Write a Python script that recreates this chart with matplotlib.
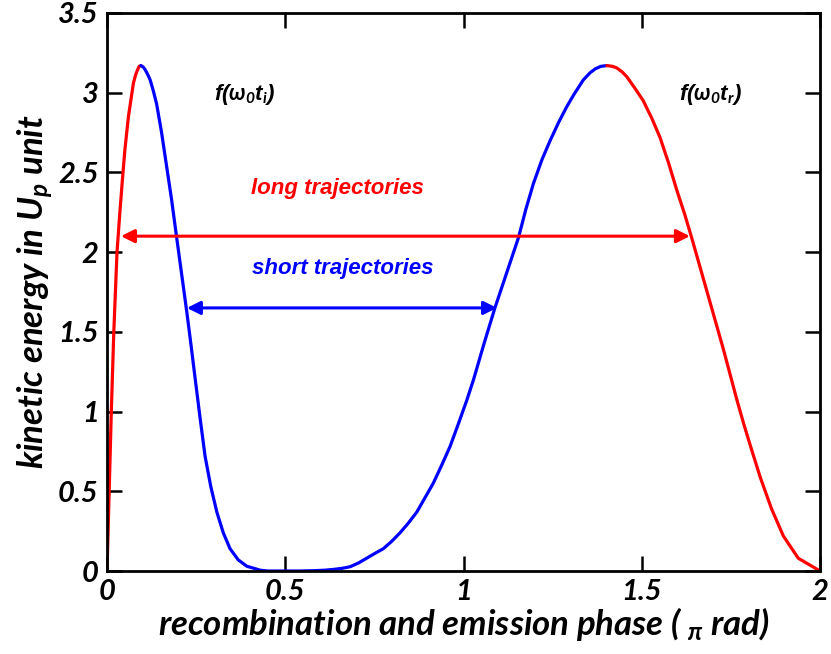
import numpy as np
import matplotlib
matplotlib.use("Agg")
import matplotlib.pyplot as plt

# kinetic energy (Up) vs phase (pi rad), split by trajectory class
phase_long_a = [0.0, 0.006, 0.012, 0.019, 0.028, 0.036, 0.043, 0.050, 0.060,
                0.074, 0.080, 0.085, 0.090, 0.095]
ke_long_a = [0.0, 0.50, 1.00, 1.50, 2.00, 2.25, 2.45, 2.64, 2.85,
             3.06, 3.11, 3.14, 3.165, 3.17]

phase_short = [0.095, 0.102, 0.108, 0.115, 0.121, 0.130, 0.139, 0.153, 0.167,
               0.181, 0.196, 0.210, 0.224, 0.236, 0.247, 0.261, 0.275, 0.291,
               0.308, 0.326, 0.345, 0.368, 0.392, 0.430, 0.450, 0.540, 0.580,
               0.610, 0.635, 0.660, 0.682, 0.705, 0.728, 0.751, 0.775, 0.798,
               0.822, 0.845, 0.869, 0.892, 0.915, 0.938, 0.962, 0.985, 1.009,
               1.028, 1.058, 1.088, 1.121, 1.154, 1.175, 1.196, 1.220, 1.243,
               1.266, 1.289, 1.310, 1.336, 1.355, 1.370, 1.385, 1.402]
ke_short = [3.17, 3.16, 3.14, 3.11, 3.08, 3.01, 2.93, 2.75, 2.54,
            2.33, 2.08, 1.85, 1.62, 1.41, 1.21, 0.96, 0.72, 0.53,
            0.37, 0.24, 0.14, 0.07, 0.03, 0.005, 0.0, 0.0, 0.002,
            0.005, 0.01, 0.017, 0.027, 0.05, 0.08, 0.11, 0.14, 0.185,
            0.24, 0.30, 0.37, 0.46, 0.55, 0.66, 0.78, 0.92, 1.07,
            1.20, 1.43, 1.65, 1.87, 2.09, 2.27, 2.43, 2.58, 2.70,
            2.81, 2.91, 2.99, 3.08, 3.125, 3.15, 3.165, 3.17]

phase_long_b = [1.402, 1.418, 1.430, 1.445, 1.458, 1.480, 1.504, 1.528, 1.551,
                1.575, 1.598, 1.620, 1.640, 1.682, 1.729, 1.766, 1.785, 1.804,
                1.832, 1.864, 1.897, 1.939, 2.0]
ke_long_b = [3.17, 3.165, 3.155, 3.13, 3.10, 3.03, 2.95, 2.84, 2.72,
             2.56, 2.39, 2.24, 2.09, 1.76, 1.39, 1.08, 0.93, 0.79,
             0.59, 0.39, 0.22, 0.08, 0.0]

# arrows: (y level, left x, right x)
long_arrow = (2.1, 0.039, 1.635)
short_arrow = (1.65, 0.224, 1.094)

xticks = [0, 0.5, 1, 1.5, 2]
xtick_labels = ['0', '0.5', '1', '1.5', '2']
yticks = [0, 0.5, 1, 1.5, 2, 2.5, 3, 3.5]
ytick_labels = ['0', '0.5', '1', '1.5', '2', '2.5', '3', '3.5']

plt.rcParams['font.family'] = ['Lato', 'DejaVu Sans']
plt.rcParams['mathtext.fontset'] = 'custom'
plt.rcParams['mathtext.rm'] = 'Lato:bold:italic'
plt.rcParams['mathtext.it'] = 'Lato:bold:italic'

fig = plt.figure(figsize=(8.31, 6.54), dpi=100)
ax = fig.add_axes([0.1288, 0.1269, 0.858, 0.8533])

red = '#ff0000'
blue = '#0000ff'
ax.plot(phase_long_a, ke_long_a, color=red, lw=2.3, solid_capstyle='round')
ax.plot(phase_short, ke_short, color=blue, lw=2.3, solid_capstyle='round')
ax.plot(phase_long_b, ke_long_b, color=red, lw=2.3, solid_capstyle='round')

for (yv, x0, x1), c in [(long_arrow, red), (short_arrow, blue)]:
    ax.annotate('', xy=(x0, yv), xytext=(x1, yv),
                arrowprops=dict(arrowstyle='<|-|>', color=c, lw=2.2,
                                mutation_scale=20, shrinkA=0, shrinkB=0))

note_font = dict(family=['Liberation Sans', 'DejaVu Sans'], weight='bold',
                 style='italic', fontsize=16)
ax.text(0.645, 2.40, 'long trajectories', color=red, ha='center', va='center', **note_font)
ax.text(0.66, 1.90, 'short trajectories', color=blue, ha='center', va='center', **note_font)
ax.text(0.388, 2.99, r'f($\omega_0$t$_i$)', color='black', ha='center', va='center', **note_font)
ax.text(1.692, 2.99, r'f($\omega_0$t$_r$)', color='black', ha='center', va='center', **note_font)

ax.set_xlim(0, 2)
ax.set_ylim(0, 3.5)
ax.set_xticks(xticks)
ax.set_xticklabels(xtick_labels)
ax.set_yticks(yticks)
ax.set_yticklabels(ytick_labels)
ax.tick_params(direction='in', length=11, width=1.8, top=True, right=True,
               labelsize=21, pad=6)
for lab in ax.get_xticklabels() + ax.get_yticklabels():
    lab.set_fontweight('bold')
    lab.set_fontstyle('italic')
for sp in ax.spines.values():
    sp.set_linewidth(2.0)

ax.set_xlabel(r'recombination and emission phase ( $_\pi$ rad)', fontsize=25,
              fontweight='bold', fontstyle='italic', labelpad=0)
ax.set_ylabel(r'kinetic energy in U$_p$ unit', fontsize=25,
              fontweight='bold', fontstyle='italic', labelpad=2)

fig.savefig('out.png', dpi=100)
